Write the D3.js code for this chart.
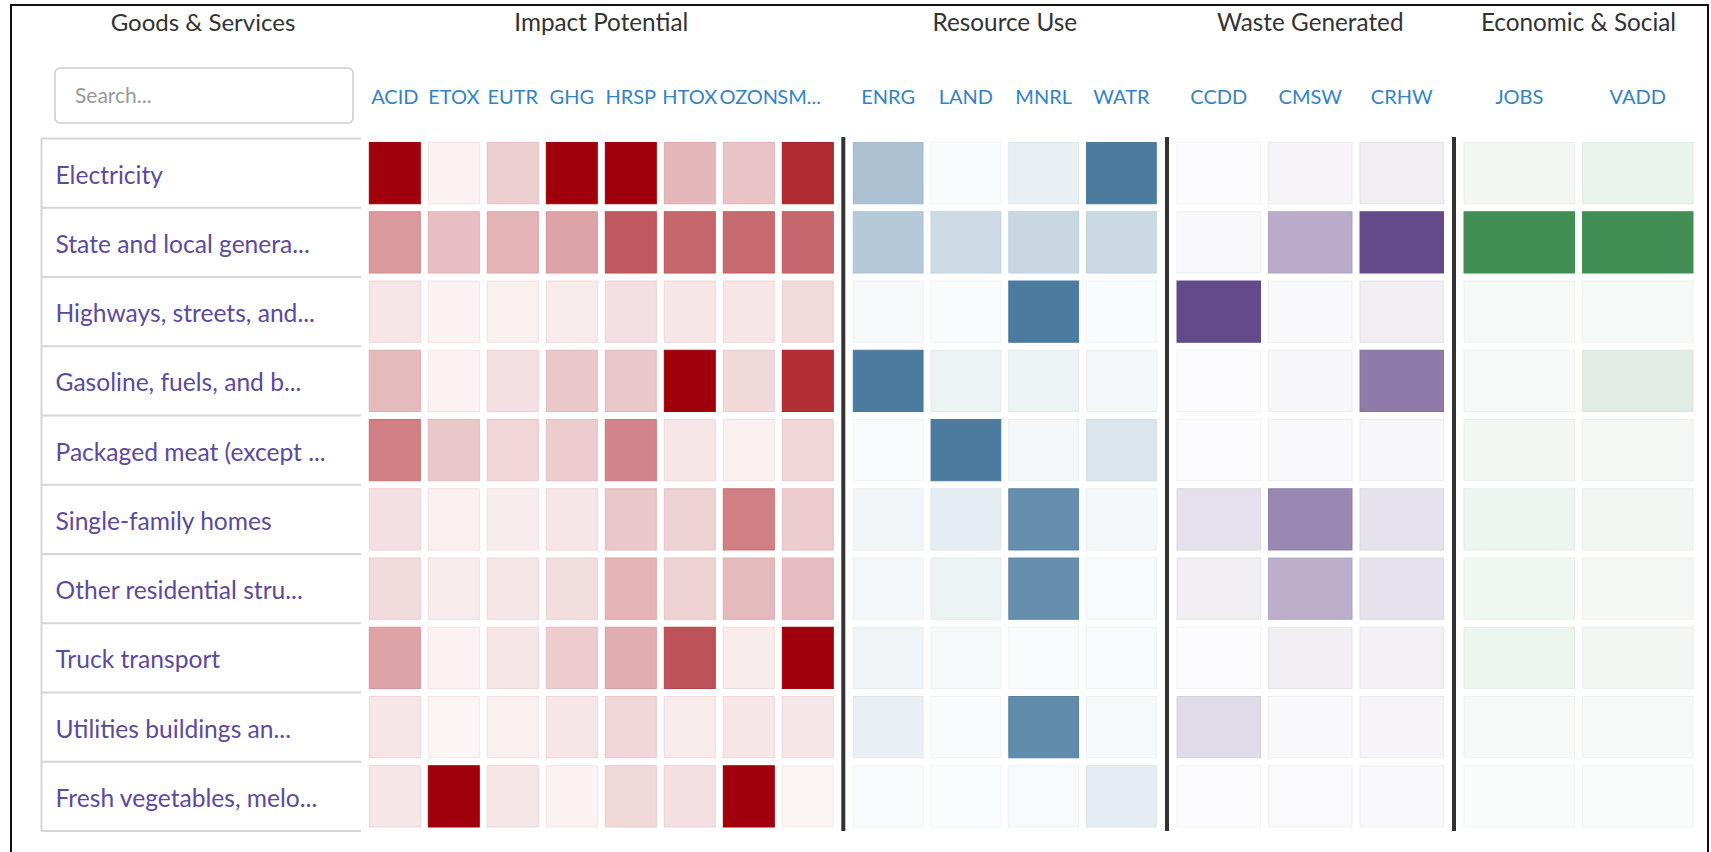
<!DOCTYPE html>
<html>
<head>
<meta charset="utf-8">
<script src="https://cdnjs.cloudflare.com/ajax/libs/d3/7.8.5/d3.min.js"></script>
<style>
  body { margin: 0; background: #fff; }
  text { font-family: Lato, "Noto Sans", sans-serif; }
</style>
</head>
<body>
<div id="chart"></div>
<script>

// sectors (rows)
const sectors = [
  "Electricity",
  "State and local genera...",
  "Highways, streets, and...",
  "Gasoline, fuels, and b...",
  "Packaged meat (except ...",
  "Single-family homes",
  "Other residential stru...",
  "Truck transport",
  "Utilities buildings an...",
  "Fresh vegetables, melo..."
];

// indicator groups
const groupNames = ["Impact Potential", "Resource Use", "Waste Generated", "Economic & Social"];

const impactCodes = ["ACID", "ETOX", "EUTR", "GHG", "HRSP", "HTOX", "OZON", "SM..."];
const resourceCodes = ["ENRG", "LAND", "MNRL", "WATR"];
const wasteCodes = ["CCDD", "CMSW", "CRHW"];
const econCodes = ["JOBS", "VADD"];

// relative values 0..1, one row per sector
const impactValues = [
  [1.00, 0.05, 0.19, 1.00, 1.00, 0.28, 0.23, 0.83],
  [0.40, 0.25, 0.30, 0.36, 0.65, 0.60, 0.58, 0.60],
  [0.10, 0.05, 0.06, 0.08, 0.12, 0.10, 0.10, 0.14],
  [0.27, 0.05, 0.12, 0.22, 0.22, 1.00, 0.15, 0.82],
  [0.50, 0.22, 0.16, 0.20, 0.48, 0.10, 0.06, 0.16],
  [0.12, 0.06, 0.07, 0.10, 0.22, 0.18, 0.50, 0.20],
  [0.14, 0.08, 0.10, 0.13, 0.30, 0.18, 0.27, 0.26],
  [0.36, 0.05, 0.10, 0.20, 0.32, 0.68, 0.08, 1.00],
  [0.10, 0.04, 0.06, 0.10, 0.16, 0.08, 0.10, 0.10],
  [0.10, 1.00, 0.10, 0.05, 0.15, 0.12, 1.00, 0.04]
];
const resourceValues = [
  [0.46, 0.03, 0.12, 1.00],
  [0.41, 0.28, 0.30, 0.29],
  [0.05, 0.03, 1.00, 0.03],
  [1.00, 0.10, 0.10, 0.06],
  [0.03, 1.00, 0.06, 0.20],
  [0.07, 0.14, 0.85, 0.06],
  [0.06, 0.10, 0.85, 0.04],
  [0.08, 0.05, 0.03, 0.04],
  [0.12, 0.03, 0.88, 0.05],
  [0.03, 0.02, 0.04, 0.14]
];
const wasteValues = [
  [0.02, 0.06, 0.10],
  [0.04, 0.46, 1.00],
  [1.00, 0.04, 0.10],
  [0.02, 0.05, 0.73],
  [0.02, 0.04, 0.05],
  [0.17, 0.66, 0.16],
  [0.10, 0.44, 0.16],
  [0.02, 0.10, 0.08],
  [0.20, 0.04, 0.06],
  [0.02, 0.03, 0.04]
];
const econValues = [
  [0.07, 0.11],
  [1.00, 1.00],
  [0.05, 0.05],
  [0.05, 0.16],
  [0.07, 0.06],
  [0.09, 0.07],
  [0.08, 0.06],
  [0.10, 0.07],
  [0.05, 0.05],
  [0.03, 0.03]
];

const groups = [
  { name: groupNames[0], codes: impactCodes,   values: impactValues,   color: "#a0000b", x0: 365.3,  x1: 837.3 },
  { name: groupNames[1], codes: resourceCodes, values: resourceValues, color: "#4b7b9f", x0: 849.3,  x1: 1160.3 },
  { name: groupNames[2], codes: wasteCodes,    values: wasteValues,    color: "#654a8b", x0: 1173.0, x1: 1447.5 },
  { name: groupNames[3], codes: econCodes,     values: econValues,     color: "#438e55", x0: 1460.0, x1: 1697.0 }
];

const width = 1711, height = 852;

var svg = d3.select('#chart')
  .append('svg')
  .attr('width', width)
  .attr('height', height);

// outer frame
svg.append('rect')
  .attr('x', 11).attr('y', 5)
  .attr('width', 1697).attr('height', 900)
  .attr('fill', 'none')
  .attr('stroke', '#111')
  .attr('stroke-width', 2);

// rows
var y = d3.scaleBand()
  .domain(sectors)
  .range([138.5, 831]);

// left header + search box
svg.append('text')
  .attr('x', 203).attr('y', 31)
  .attr('text-anchor', 'middle')
  .attr('font-size', 24)
  .attr('fill', '#333')
  .text('Goods & Services');

svg.append('rect')
  .attr('x', 55).attr('y', 68)
  .attr('width', 298).attr('height', 55)
  .attr('rx', 5)
  .attr('fill', '#fff')
  .attr('stroke', '#ccc')
  .attr('stroke-width', 1.5);

svg.append('text')
  .attr('x', 75).attr('y', 103)
  .attr('font-size', 21)
  .attr('fill', '#999')
  .text('Search...');

// sector list
var list = svg.append('g');

list.append('line')
  .attr('x1', 41.5).attr('x2', 41.5)
  .attr('y1', y.range()[0]).attr('y2', y.range()[1])
  .attr('stroke', '#d6d6d6').attr('stroke-width', 2);

list.selectAll('line.row')
  .data(sectors.concat(['_end']))
  .enter()
  .append('line')
  .attr('class', 'row')
  .attr('x1', 41.5).attr('x2', 361)
  .attr('y1', (d, i) => y.range()[0] + i * y.step())
  .attr('y2', (d, i) => y.range()[0] + i * y.step())
  .attr('stroke', '#d6d6d6').attr('stroke-width', 2);

list.selectAll('text')
  .data(sectors)
  .enter()
  .append('text')
  .attr('x', 55.5)
  .attr('y', d => y(d) + y.bandwidth() / 2 + 2)
  .attr('dy', '0.35em')
  .attr('font-size', 24.6)
  .attr('fill', '#5b4a9e')
  .text(d => d);

// indicator groups
groups.forEach(function (g, gi) {

  var x = d3.scaleBand()
    .domain(g.codes)
    .range([g.x0, g.x1]);

  var color = d3.interpolateRgb('#ffffff', g.color);

  svg.append('text')
    .attr('x', (g.x0 + g.x1) / 2).attr('y', 31)
    .attr('text-anchor', 'middle')
    .attr('font-size', 24.3)
    .attr('fill', '#333')
    .text(g.name);

  svg.selectAll('text.code' + gi)
    .data(g.codes)
    .enter()
    .append('text')
    .attr('class', 'code' + gi)
    .attr('x', d => d.endsWith('...') ? x(d) - 1 : x(d) + x.bandwidth() / 2)
    .attr('y', 97)
    .attr('dy', '0.35em')
    .attr('text-anchor', d => d.endsWith('...') ? 'start' : 'middle')
    .attr('font-size', 20)
    .attr('fill', '#3283c6')
    .text(d => d);

  var cells = [];
  g.values.forEach((row, ri) => {
    row.forEach((v, ci) => cells.push({ sector: sectors[ri], code: g.codes[ci], v: v }));
  });

  svg.append('g')
    .selectAll('rect')
    .data(cells)
    .enter()
    .append('rect')
    .attr('x', d => x(d.code) + 4)
    .attr('y', d => y(d.sector) + 4)
    .attr('width', x.bandwidth() - 8)
    .attr('height', y.bandwidth() - 8)
    .attr('fill', d => color(d.v))
    .attr('stroke', d => color(Math.min(1, d.v + 0.06)))
    .attr('stroke-width', 1);

  // separator before next group
  if (gi > 0) {
    svg.append('line')
      .attr('x1', g.x0 - 6).attr('x2', g.x0 - 6)
      .attr('y1', 137).attr('y2', 831)
      .attr('stroke', '#333')
      .attr('stroke-width', 4);
  }
});

</script>
</body>
</html>
